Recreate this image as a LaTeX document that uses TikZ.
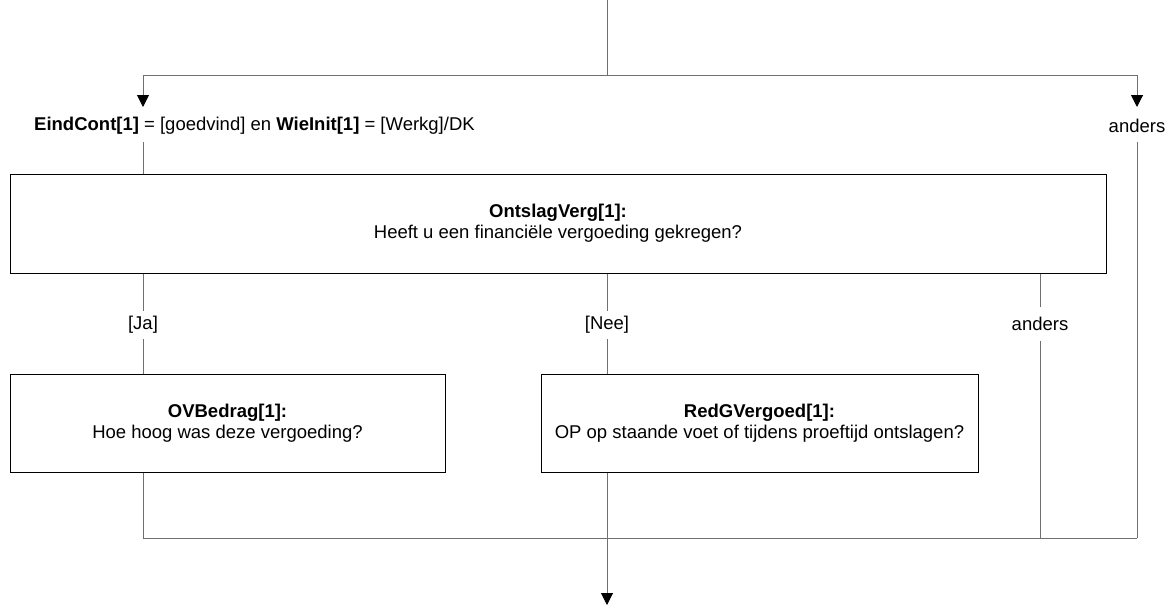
\documentclass[tikz,border=0pt]{standalone}
\usepackage{fontspec}
\setmainfont{Liberation Sans}
\usetikzlibrary{arrows.meta}
\definecolor{linegray}{HTML}{707070}
\tikzset{
  flow/.style={draw=linegray, line width=1pt},
  arr/.style={flow, -{Triangle[width=12pt,length=12pt,color=black,fill=black]}},
  qbox/.style={draw=black, line width=1pt, fill=white, inner sep=0pt, align=center, font=\fontsize{18.5}{21}\selectfont},
  lbl/.style={inner sep=1pt, font=\fontsize{18.5}{21}\selectfont},
}
\begin{document}
\begin{tikzpicture}[x=1pt,y=-1pt]
\useasboundingbox (0,0) rectangle (1174,608);
% coordinates
\coordinate (top) at (607,0);
\coordinate (split) at (607,75);
\coordinate (cl) at (143,75);
\coordinate (cr) at (1137,75);
\coordinate (clend) at (143,107);
\coordinate (crend) at (1137,107);
% labels
\node[lbl, anchor=west] (cond) at (33,126) {\textbf{EindCont[1]} = [goedvind] en \textbf{WieInit[1]} = [Werkg]/DK};
\node[lbl] (anders1) at (1137,126) {anders};
% boxes
\node[qbox, minimum width=1096pt, minimum height=99pt] (q1) at (558,223.5) {\textbf{OntslagVerg[1]:}\\Heeft u een financiële vergoeding gekregen?};
\node[qbox, minimum width=435pt, minimum height=98pt] (q2) at (227.5,423) {\textbf{OVBedrag[1]:}\\Hoe hoog was deze vergoeding?};
\node[qbox, minimum width=437pt, minimum height=98pt] (q3) at (759.5,423) {\textbf{RedGVergoed[1]:}\\OP op staande voet of tijdens proeftijd ontslagen?};
% branch labels
\node[lbl, minimum height=28pt] (ja) at (143,325) {[Ja]};
\node[lbl, minimum height=28pt] (nee) at (607,325) {[Nee]};
\node[lbl, minimum height=34pt] (anders2) at (1040,324) {anders};
% merge coordinates
\coordinate (mL) at (143,538);
\coordinate (mA) at (1040,538);
\coordinate (mR) at (1137,538);
\coordinate (bottom) at (607,605);
% connectors
\draw[flow] (top) -- (split);
\draw[flow] (cl) -- (cr);
\draw[arr] (cl) -- (clend);
\draw[arr] (cr) -- (crend);
\draw[flow] (143,142) -- (q1.north -| cl);
\draw[flow] (q1.south -| ja) -- (ja.north);
\draw[flow] (ja.south) -- (q2.north -| ja);
\draw[flow] (q1.south -| nee) -- (nee.north);
\draw[flow] (nee.south) -- (q3.north -| nee);
\draw[flow] (q1.south -| anders2) -- (anders2.north);
\draw[flow] (anders2.south) -- (mA);
\draw[flow] (1137,142) -- (mR);
\draw[flow] (q2.south -| ja) -- (mL) -- (mR);
\draw[arr] (q3.south -| nee) -- (bottom);
\end{tikzpicture}
\end{document}
